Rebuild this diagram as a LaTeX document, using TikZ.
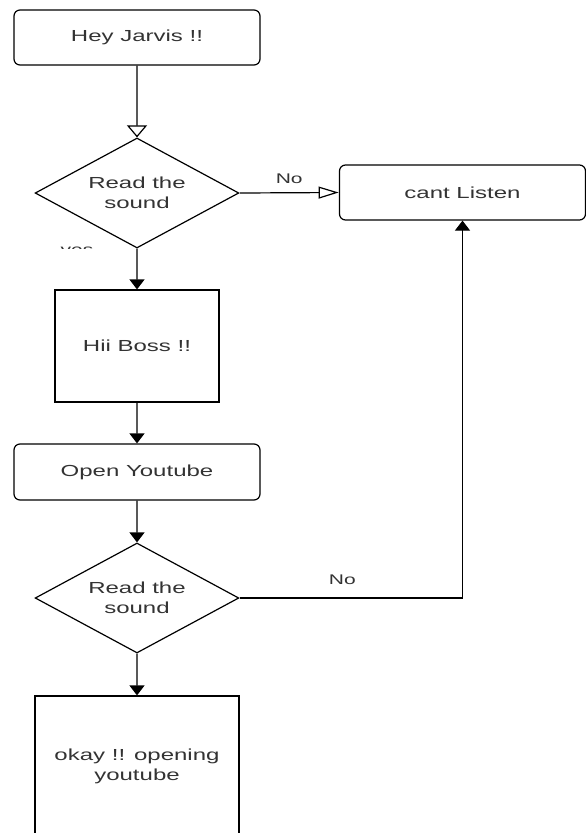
\documentclass[tikz,border=0pt]{standalone}
\usepackage{fontspec}
\setmainfont{Liberation Sans}
\usepackage{tkz-euclide}
\usetikzlibrary{arrows.meta,shapes.geometric}

\begin{document}
\begin{tikzpicture}[x=1pt,y=-1pt,line width=1.2pt,
  txt/.style={text=black!80,font=\fontsize{16}{20}\selectfont,align=center,xscale=1.5},
  lbl/.style={text=black!80,font=\fontsize{14}{16}\selectfont,xscale=1.5},
  rbox/.style={txt,draw,rounded corners=6pt,minimum width=164pt,minimum height=55pt},
  sbox/.style={txt,draw,minimum width=#1},
  decision/.style={txt,draw,diamond,inner sep=2pt,minimum width=136pt,minimum height=110pt},
  open/.style={-{Triangle[open,length=12pt,width=20pt]}},
  openh/.style={-{Triangle[open,length=20pt,width=12pt]}},
  flow/.style={-{Triangle[length=10pt,width=15pt]}}]
\clip (0,0) rectangle (586,833);
\tkzDefPoints{137/37.5/H, 137/193/R, 462.5/192.5/C, 137/346/B, 137/472/Y, 137/598/S, 137/776/K}

\node[rbox] (hey) at (H) {Hey Jarvis !!};
\node[decision] (read1) at (R) {Read the\\sound};
\node[rbox] (cant) at (C) {cant Listen};
\node[sbox=109.3pt,minimum height=112pt] (hii) at (B) {Hii Boss !!};
\node[rbox,minimum height=56pt] (youtube) at (Y) {Open Youtube};
\node[decision] (read2) at (S) {Read the\\sound};
\node[sbox=136pt,minimum height=160pt,text depth=22pt] (okay) at (K) {okay !! opening\\youtube};

\draw[open] (hey) -- (read1);
\draw[openh] (read1.east) -- node[lbl,above=5pt] (no1) {No} (cant.west);
\foreach \a/\b in {read1/hii, hii/youtube, youtube/read2, read2/okay}
  \draw[flow] (\a) -- (\b);
\draw[flow] (read2.east) -| node[lbl,pos=0.23,above=9pt] (no2) {No} (cant.south);

% label hidden under the box
\begin{scope}
  \clip (50,245) rectangle (110,248.5);
  \node[lbl,anchor=base] (yes) at (77,254) {yes};
\end{scope}
\end{tikzpicture}
\end{document}
